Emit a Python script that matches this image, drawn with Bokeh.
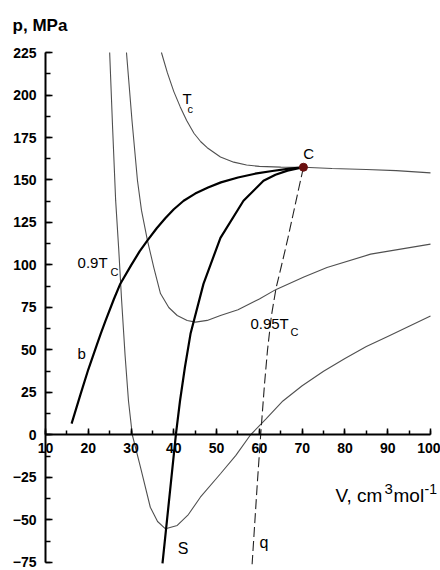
from bokeh.plotting import figure
from bokeh.models import Range1d, SingleIntervalTicker, Label
from bokeh.embed import file_html
from bokeh.resources import INLINE

# ---- data (V in cm3/mol, p in MPa) ----
tc_v = [37.1, 38.5, 40.0, 41.5, 43.0, 44.7, 46.3, 47.8, 50.9, 54.0, 57.0, 60.0, 65.0, 70.3, 77.0, 85.0, 92.0, 100.0]
tc_p = [225, 213, 202, 193, 185, 177.5, 172.5, 169, 163.5, 160.5, 158.8, 158, 157.6, 157.5, 156.8, 156.2, 155.5, 154.2]

t95_v = [28.93, 30.22, 31.5, 32.44, 33.84, 35.32, 36.88, 38.82, 40.79, 43.12, 45.07, 47.8, 50.9, 55.0, 60.0, 63.8, 70.4, 75.8, 86.0, 100.0]
t95_p = [225, 185, 149.7, 132.1, 114.4, 98.5, 83.2, 75, 70.3, 67.4, 66.4, 67.4, 70.3, 73.7, 80, 85.5, 93, 98.5, 106.4, 112.3]

t90_v = [25.0, 25.7, 26.4, 27.1, 27.8, 28.6, 29.4, 30.3, 32.2, 34.5, 36.2, 38.05, 40.8, 43.4, 46.2, 50.9, 54.5, 57.9, 61.5, 65.5, 70.0, 75.0, 80.0, 85.0, 90.0, 95.0, 100.0]
t90_p = [225, 180, 138, 110, 79, 47, 20, 0, -18.9, -42.5, -50.9, -55.2, -53.2, -46.8, -36.6, -22.8, -12, 0, 9.4, 20, 29, 37.5, 45, 52, 58, 64, 70]

bin_v = [16.1, 18.2, 20.0, 22.0, 22.9, 24.0, 26.0, 27.5, 30.0, 32.0, 33.8, 36.0, 38.0, 40.0, 42.3, 45.0, 48.0, 51.0, 55.0, 59.0, 63.0, 67.0, 70.3]
bin_p = [6.7, 24, 38.5, 53, 59.5, 67, 80, 89, 99.8, 108, 114.3, 121.6, 127.5, 132.8, 137.8, 142, 145.6, 148.6, 151.5, 153.7, 155.3, 156.7, 157.5]

spin_v = [37.35, 40.5, 41.44, 42.6, 43.9, 46.93, 50.9, 56.28, 60.96, 63.76, 66.57, 70.3]
spin_p = [-75.5, 0.6, 20, 40, 59.5, 88.9, 116, 137.8, 149.6, 153.1, 155.5, 157.5]

q_v = [70.3, 69.2, 67.9, 66.6, 65.2, 63.9, 62.8, 61.9, 61.2, 60.9, 60.3, 59.5, 58.3]
q_p = [157.5, 145, 130, 115, 100, 86.4, 70, 50, 30, 20, 0, -29, -76]

crit_v = [70.3]
crit_p = [157.5]

x_ticks_step = 10
y_ticks_step = 25

FONT = "Liberation Sans"

p = figure(width=440, height=570, x_range=Range1d(-0.519, 102.338), y_range=Range1d(-79.71, 255.59),
           output_backend="svg", toolbar_location=None,
           min_border_left=0, min_border_right=0, min_border_top=0, min_border_bottom=0,
           outline_line_color=None, background_fill_color="white", border_fill_color="white")
p.grid.visible = False

xa = p.xaxis[0]
xa.ticker = SingleIntervalTicker(interval=x_ticks_step, num_minor_ticks=2)
xa.fixed_location = 0
xa.bounds = (10, 100)
xa.major_tick_in = 6
xa.major_tick_out = 0
xa.minor_tick_in = 4
xa.minor_tick_out = 0
xa.axis_line_width = 2
xa.major_tick_line_width = 1.5
xa.minor_tick_line_width = 1.5
xa.major_label_standoff = 8
xa.major_label_text_font = FONT
xa.major_label_text_font_size = "14px"
xa.major_label_text_font_style = "bold"
xa.major_label_text_color = "black"

ya = p.yaxis[0]
ya.ticker = SingleIntervalTicker(interval=y_ticks_step, num_minor_ticks=2)
ya.fixed_location = 10
ya.bounds = (-75, 225)
ya.major_tick_in = 7
ya.major_tick_out = 0
ya.minor_tick_in = 5
ya.minor_tick_out = 0
ya.axis_line_width = 2
ya.major_tick_line_width = 1.5
ya.minor_tick_line_width = 1.5
ya.major_label_standoff = 9
ya.major_label_text_font = FONT
ya.major_label_text_font_size = "14px"
ya.major_label_text_font_style = "bold"
ya.major_label_text_color = "black"

thin = "#505050"
p.line(tc_v, tc_p, line_color=thin, line_width=1.1)
p.line(t95_v, t95_p, line_color=thin, line_width=1.1)
p.line(t90_v, t90_p, line_color=thin, line_width=1.1)
p.line(q_v, q_p, line_color="#222222", line_width=1.1, line_dash="10 4")
p.line(bin_v, bin_p, line_color="black", line_width=2.2)
p.line(spin_v, spin_p, line_color="black", line_width=2.2)
p.scatter(crit_v, crit_p, size=8, fill_color="#6b1010", line_color="#6b1010")


def lab(x, y, t, size="15px", align="left", style="normal", **kw):
    p.add_layout(Label(x=x, y=y, text=t, text_font=FONT, text_font_size=size,
                       text_font_style=style, text_align=align, text_baseline="alphabetic",
                       text_color="black", **kw))


lab(42.0, 197.9, "T")
lab(43.2, 192.0, "c", size="11px")
lab(71.5, 165.5, "C", align="center")
lab(17.5, 101.3, "0.9T")
lab(25.2, 96.0, "C", size="11px")
lab(17.5, 47.7, "b")
lab(57.9, 65.4, "0.95T")
lab(67.3, 60.7, "C", size="11px")
lab(40.9, -66.5, "S", size="16px")
lab(60.0, -63.4, "q", size="16px")

lab(2.3, 240.9, "p, MPa", size="17px", style="bold")
lab(77.8, -35.3, "V, cm", size="19px")
lab(77.8, -35.3, "3", size="15px", x_offset=49, y_offset=6)
lab(77.8, -35.3, "mol", size="19px", x_offset=58)
lab(77.8, -35.3, "-1", size="14px", x_offset=89, y_offset=6)

open("out.html", "w").write(file_html(p, INLINE))
